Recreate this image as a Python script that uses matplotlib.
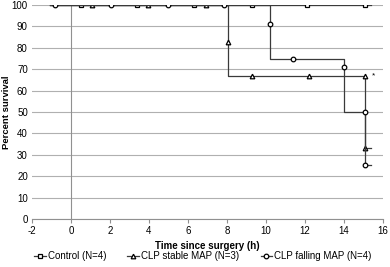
import matplotlib
matplotlib.use("Agg")
import matplotlib.pyplot as plt

plt.rcParams['font.family'] = ['Liberation Sans', 'DejaVu Sans']
plt.rcParams['axes.unicode_minus'] = False

# Survival curves: path vertices and which of them carry a marker
ctrl_x = [-1.1, 0.5, 3.4, 6.3, 9.3, 12.1, 15.1, 15.4]
ctrl_y = [100, 100, 100, 100, 100, 100, 100, 100]
ctrl_mark = [1, 2, 3, 4, 5, 6]

stable_x = [-1.1, 1.1, 3.95, 6.9, 8.05, 8.05, 8.05, 9.3, 12.2, 15.1, 15.1, 15.1, 15.4]
stable_y = [100, 100, 100, 100, 100, 82.5, 66.7, 66.7, 66.7, 66.7, 33.3, 33.3, 33.3]
stable_mark = [1, 2, 3, 5, 7, 8, 9, 11]

falling_x = [-1.1, -0.8, 2.05, 5.0, 7.85, 10.2, 10.2, 10.2, 11.4, 14.0, 14.0, 14.0, 15.1, 15.1, 15.1, 15.4]
falling_y = [100, 100, 100, 100, 100, 100, 91, 75, 75, 75, 71, 50, 50, 25, 25, 25]
falling_mark = [1, 2, 3, 4, 6, 8, 10, 12, 13]

labels = ["Control (N=4)", "CLP stable MAP (N=3)", "CLP falling MAP (N=4)"]
markers = ["s", "^", "o"]

fig = plt.figure(figsize=(3.9, 2.67), dpi=100)
ax = fig.add_axes([0.082, 0.18, 0.9, 0.801])

line_col = "#3a3a3a"
series = [(ctrl_x, ctrl_y, ctrl_mark),
          (stable_x, stable_y, stable_mark),
          (falling_x, falling_y, falling_mark)]
for (x, y, mk), lab, m in zip(series, labels, markers):
    ax.plot(x, y, color=line_col, lw=0.9, marker=m, markevery=mk,
            markersize=3.3, markerfacecolor="white", markeredgecolor="black",
            markeredgewidth=0.9, label=lab, zorder=3)

ax.text(15.45, 67, "*", fontsize=6, va="center", ha="left")

ax.set_xlim(-2, 16)
ax.set_ylim(0, 100)
ax.set_xticks(range(-2, 17, 2))
ax.set_yticks(range(0, 101, 10))
ax.yaxis.grid(True, color="#b0b0b0", lw=0.8)
ax.set_axisbelow(True)
ax.axvline(0, color="#909090", lw=0.8, zorder=1)

for s in ["top", "right", "left"]:
    ax.spines[s].set_visible(False)
ax.spines["bottom"].set_color("#909090")
ax.tick_params(axis="x", length=3, color="#909090", labelsize=7, pad=2)
ax.tick_params(axis="y", length=0, labelsize=7, pad=3)

ax.set_xlabel("Time since surgery (h)", fontsize=7, fontweight="bold", labelpad=4)
ax.set_ylabel("Percent survival", fontsize=6.8, fontweight="bold", va="center")
ax.yaxis.set_label_coords(-0.072, 0.5)

fig.legend(loc="lower center", bbox_to_anchor=(0.52, -0.01), ncol=3, frameon=False,
           fontsize=7, handlelength=1.2, handletextpad=0.2, columnspacing=2.2)

fig.savefig("out.png", dpi=100)
